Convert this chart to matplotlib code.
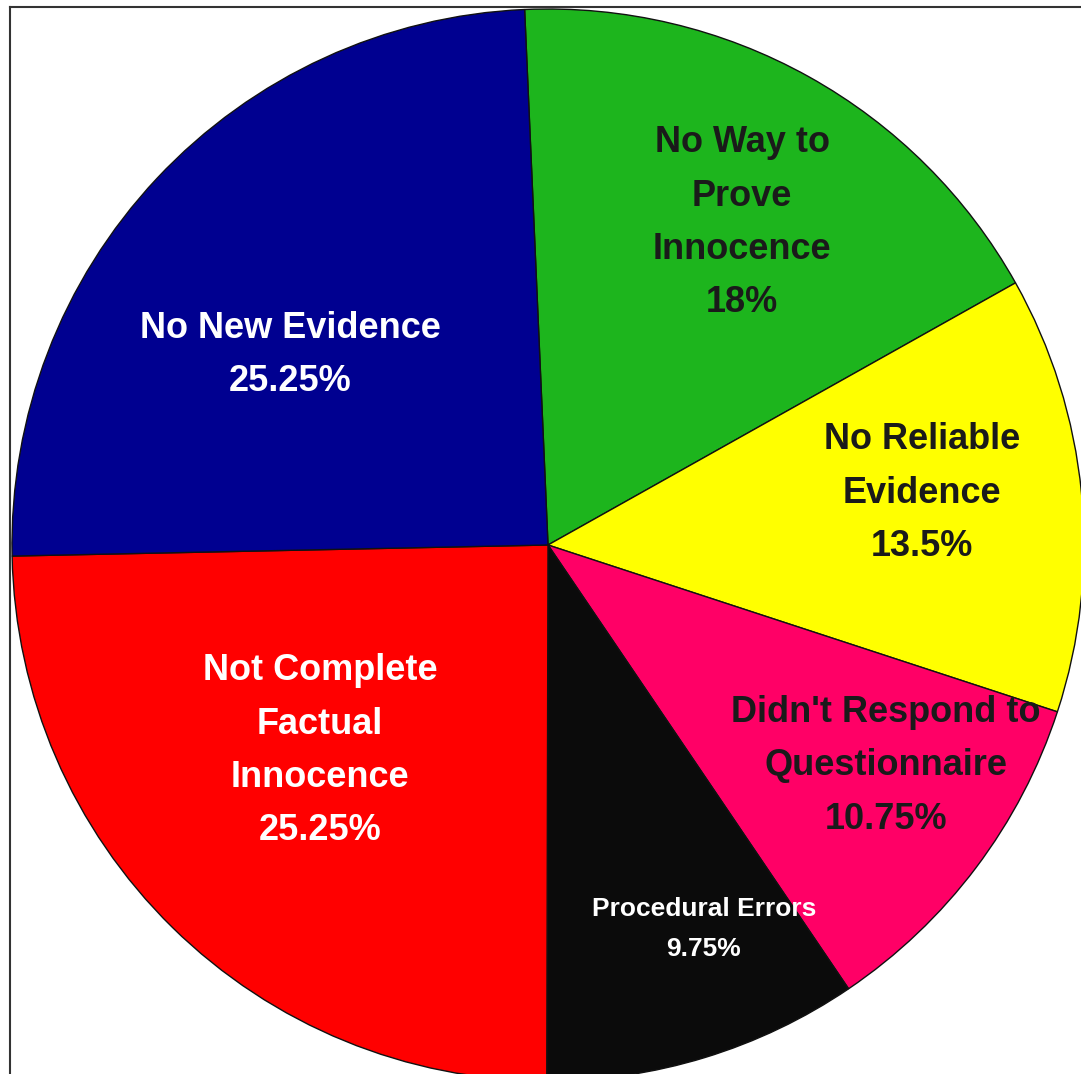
import matplotlib
matplotlib.use("Agg")
import matplotlib.pyplot as plt
from matplotlib.lines import Line2D

# slices, clockwise from the top
labels = ["No Way to\nProve\nInnocence", "No Reliable\nEvidence",
          "Didn't Respond to\nQuestionnaire", "Procedural Errors",
          "Not Complete\nFactual\nInnocence", "No New Evidence"]
values = [18, 13.5, 10.75, 9.75, 25.25, 25.25]
pct_text = ["18%", "13.5%", "10.75%", "9.75%", "25.25%", "25.25%"]
colors = ["#1db51d", "#ffff00", "#ff0066", "#0b0b0b", "#ff0000", "#000090"]
text_colors = ["#1a1a1a", "#1a1a1a", "#1a1a1a", "white", "white", "white"]
font_sizes = [26, 26, 26, 19, 26, 26]
line_sp = [1.68, 1.68, 1.68, 1.82, 1.68, 1.68]
label_pos = [(0.362, 0.601), (0.698, 0.097), (0.631, -0.412),
             (0.291, -0.716), (-0.425, -0.384), (-0.481, 0.354)]

W, H = 1081, 1074
fig = plt.figure(figsize=(W / 100, H / 100), dpi=100)
ax = fig.add_axes([0, 0, 1, 1])

ax.pie(values, colors=colors, startangle=92.5, counterclock=False,
       radius=1.0, wedgeprops=dict(edgecolor="#111111", linewidth=1.0))

for lab, pct, (x, y), c, fs, ls in zip(labels, pct_text, label_pos,
                                       text_colors, font_sizes, line_sp):
    ax.text(x, y, lab + "\n" + pct, ha="center", va="center", color=c,
            fontsize=fs, fontweight="bold", family="Liberation Sans",
            linespacing=ls)

ax.set_xlim(-548 / 536, (W - 548) / 536)
ax.set_ylim(-(H - 545) / 536, 545 / 536)
ax.set_aspect("auto")
ax.axis("off")

# thin frame lines from the scanned page
fig.add_artist(Line2D([10 / W, 1], [1 - 7 / H, 1 - 7 / H], transform=fig.transFigure,
                      color="#333333", lw=1.5))
fig.add_artist(Line2D([10 / W, 10 / W], [0, 1 - 7 / H], transform=fig.transFigure,
                      color="#333333", lw=1.5))

fig.savefig("out.png", dpi=100, facecolor="white")
